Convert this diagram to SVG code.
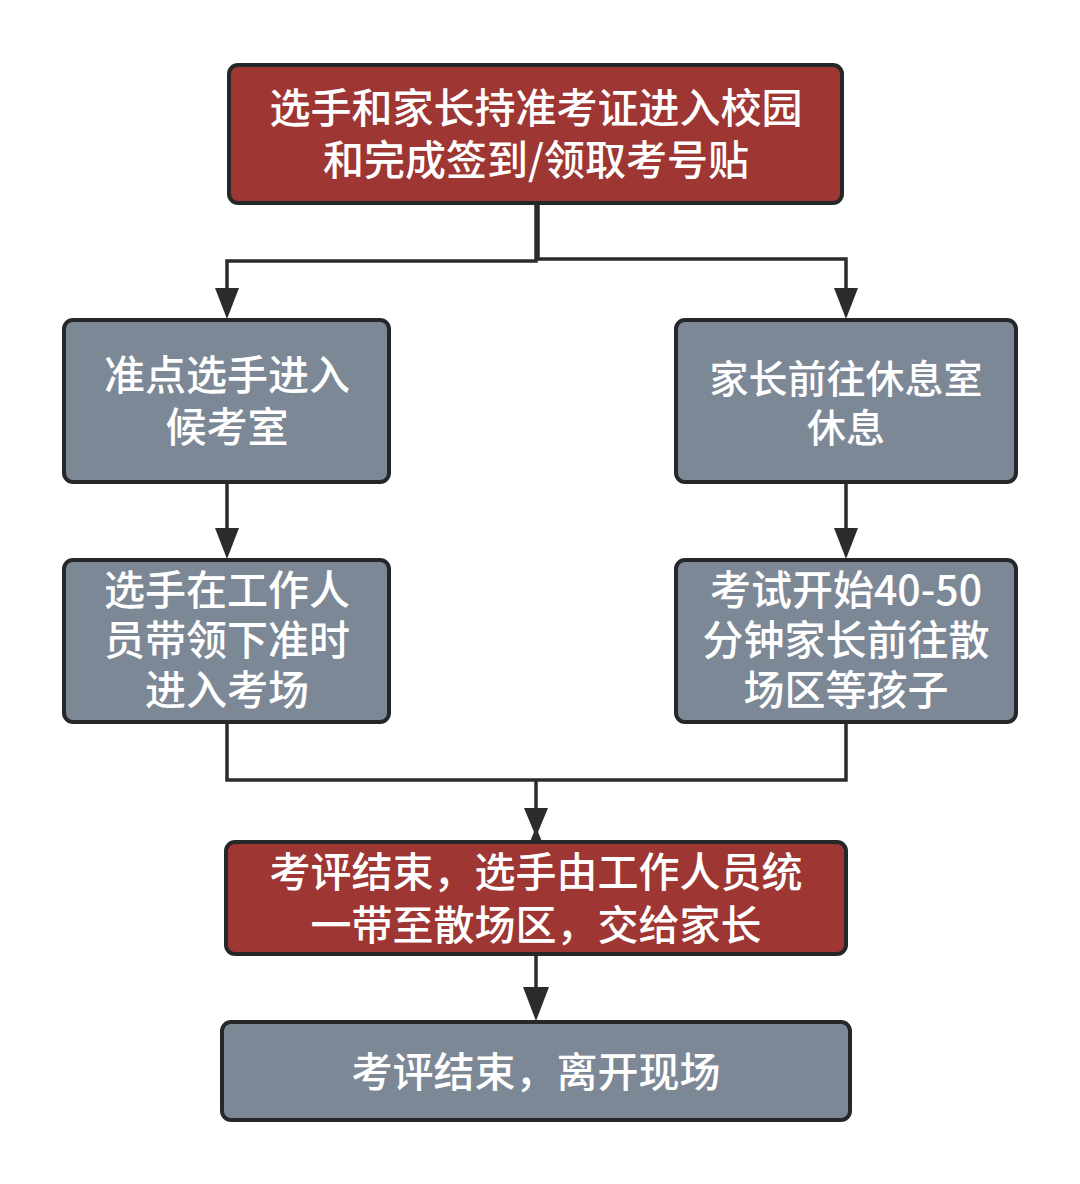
<svg xmlns="http://www.w3.org/2000/svg" width="1080" height="1184" viewBox="0 0 1080 1184">
<style>
.red{fill:#9e3634;stroke:#25282b;stroke-width:4}
.gray{fill:#7d8896;stroke:#25282b;stroke-width:4}
.t{fill:#ffffff;font-family:"Noto Sans CJK SC","Noto Sans",sans-serif;font-size:41px;font-weight:500;text-anchor:middle;dominant-baseline:central}
.s{font-size:39px}
.ln{fill:none;stroke:#2b2b2b;stroke-width:3.5}
.ah{fill:#2b2b2b}
</style>
<rect width="1080" height="1184" fill="#ffffff"/>
<g id="connectors">
<path class="ln" d="M536,203 V261 H227 V290"/>
<path class="ln" d="M538,203 V259 H846 V290"/>
<polygon class="ah" points="215,288 239,288 227,319"/>
<polygon class="ah" points="834,288 858,288 846,319"/>
<path class="ln" d="M227,482 V530"/>
<polygon class="ah" points="215,528 239,528 227,559"/>
<path class="ln" d="M846,482 V530"/>
<polygon class="ah" points="834,528 858,528 846,559"/>
<path class="ln" d="M227,722 V780 H846 V722"/>
<path class="ln" d="M536,780 V810"/>
<polygon class="ah" points="524,808 548,808 538,832 548,856 524,856 534,832"/>
<path class="ln" d="M536,954 V990"/>
<polygon class="ah" points="523,987 549,987 536,1021"/>
</g>
<g id="n1">
<rect class="red" x="229" y="65" width="613" height="138" rx="9"/>
<text class="t"><tspan x="536" y="105">选手和家长持准考证进入校园</tspan><tspan x="536" y="157">和完成签到/领取考号贴</tspan></text>
</g>
<g id="n2">
<rect class="gray" x="64" y="320" width="325" height="162" rx="9"/>
<text class="t"><tspan x="227" y="372">准点选手进入</tspan><tspan x="227" y="424">候考室</tspan></text>
</g>
<g id="n3">
<rect class="gray" x="676" y="320" width="340" height="162" rx="9"/>
<text class="t s"><tspan x="846" y="376">家长前往休息室</tspan><tspan x="846" y="425">休息</tspan></text>
</g>
<g id="n4">
<rect class="gray" x="64" y="560" width="325" height="162" rx="9"/>
<text class="t"><tspan x="227" y="587">选手在工作人</tspan><tspan x="227" y="637">员带领下准时</tspan><tspan x="227" y="687">进入考场</tspan></text>
</g>
<g id="n5">
<rect class="gray" x="676" y="560" width="340" height="162" rx="9"/>
<text class="t"><tspan x="846" y="587">考试开始40-50</tspan><tspan x="846" y="637">分钟家长前往散</tspan><tspan x="846" y="687">场区等孩子</tspan></text>
</g>
<g id="n6">
<rect class="red" x="226" y="842" width="620" height="112" rx="9"/>
<text class="t"><tspan x="536" y="869">考评结束，选手由工作人员统</tspan><tspan x="536" y="922">一带至散场区，交给家长</tspan></text>
</g>
<g id="n7">
<rect class="gray" x="222" y="1022" width="628" height="98" rx="9"/>
<text class="t" x="536" y="1069">考评结束，离开现场</text>
</g>
</svg>
